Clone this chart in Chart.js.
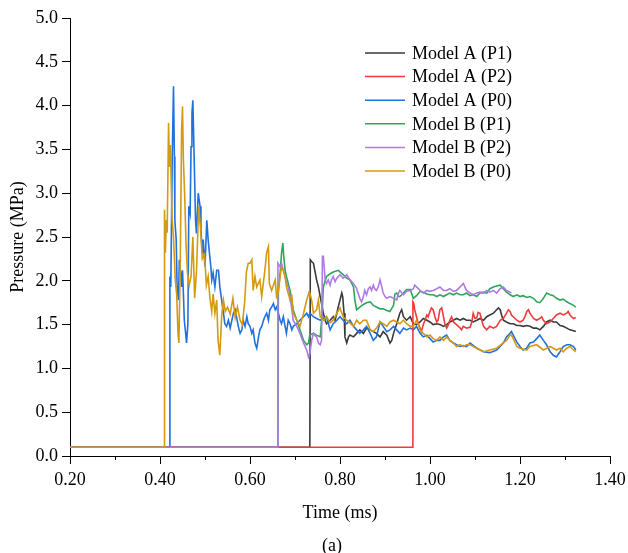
<!DOCTYPE html>
<html>
<head>
<meta charset="utf-8">
<title>Pressure</title>
<script src="https://cdn.jsdelivr.net/npm/chart.js@4/dist/chart.umd.min.js"></script>
<style>
    html, body { margin: 0; padding: 0; background: #fff; }
    #wrap { width: 628px; height: 553px; }
</style>
</head>
<body>
<div id="wrap"><canvas id="grafico"></canvas></div>
<script>
// [time (ms), pressure (MPa)]
const modelA_P1 = [[0.2,0.1],[0.733,0.1],[0.734,2.24],[0.737,2.22],[0.741,2.20],[0.744,2.12],[0.748,2.01],[0.752,1.93],[0.756,1.82],[0.759,1.74],[0.763,1.63],[0.767,1.55],[0.770,1.51],[0.778,1.55],[0.785,1.59],[0.789,1.55],[0.793,1.63],[0.796,1.70],[0.800,1.78],[0.804,1.86],[0.806,1.82],[0.809,1.63],[0.811,1.36],[0.815,1.29],[0.819,1.36],[0.822,1.38],[0.830,1.36],[0.837,1.40],[0.844,1.44],[0.852,1.40],[0.859,1.46],[0.867,1.44],[0.874,1.42],[0.881,1.40],[0.889,1.36],[0.896,1.42],[0.904,1.38],[0.911,1.29],[0.915,1.32],[0.919,1.40],[0.926,1.51],[0.933,1.63],[0.937,1.67],[0.941,1.59],[0.948,1.55],[0.956,1.59],[0.963,1.51],[0.970,1.50],[0.978,1.53],[0.985,1.57],[0.993,1.55],[1.000,1.53],[1.007,1.50],[1.015,1.51],[1.022,1.50],[1.030,1.48],[1.037,1.50],[1.044,1.53],[1.052,1.55],[1.059,1.57],[1.067,1.55],[1.074,1.57],[1.081,1.55],[1.089,1.55],[1.096,1.53],[1.104,1.55],[1.111,1.57],[1.119,1.55],[1.126,1.59],[1.133,1.61],[1.141,1.63],[1.148,1.67],[1.152,1.69],[1.156,1.67],[1.159,1.61],[1.163,1.55],[1.170,1.53],[1.178,1.51],[1.185,1.51],[1.193,1.49],[1.200,1.49],[1.207,1.48],[1.215,1.49],[1.222,1.48],[1.230,1.46],[1.237,1.46],[1.244,1.44],[1.252,1.48],[1.259,1.53],[1.267,1.55],[1.274,1.53],[1.281,1.53],[1.289,1.49],[1.296,1.48],[1.304,1.46],[1.311,1.44],[1.319,1.43],[1.324,1.42]];

const modelA_P2 = [[0.2,0.1],[0.961,0.1],[0.962,1.76],[0.964,1.74],[0.966,1.67],[0.970,1.59],[0.974,1.51],[0.978,1.46],[0.981,1.42],[0.985,1.50],[0.989,1.55],[0.993,1.61],[0.996,1.59],[1.000,1.65],[1.003,1.69],[1.007,1.67],[1.011,1.59],[1.015,1.53],[1.018,1.55],[1.022,1.67],[1.026,1.69],[1.030,1.59],[1.033,1.51],[1.037,1.46],[1.041,1.50],[1.044,1.55],[1.048,1.59],[1.052,1.53],[1.059,1.50],[1.067,1.46],[1.070,1.44],[1.074,1.48],[1.081,1.46],[1.089,1.47],[1.093,1.53],[1.096,1.63],[1.100,1.57],[1.104,1.58],[1.107,1.64],[1.111,1.63],[1.115,1.55],[1.119,1.48],[1.126,1.44],[1.133,1.48],[1.141,1.46],[1.148,1.48],[1.156,1.55],[1.163,1.57],[1.170,1.63],[1.174,1.67],[1.178,1.65],[1.181,1.61],[1.185,1.59],[1.193,1.55],[1.200,1.53],[1.207,1.55],[1.211,1.59],[1.215,1.65],[1.219,1.67],[1.222,1.63],[1.230,1.57],[1.237,1.55],[1.244,1.57],[1.248,1.59],[1.252,1.55],[1.259,1.51],[1.267,1.53],[1.274,1.57],[1.281,1.61],[1.289,1.63],[1.296,1.61],[1.304,1.63],[1.307,1.65],[1.311,1.61],[1.319,1.57],[1.324,1.58]];

const modelA_P0 = [[0.2,0.1],[0.421,0.1],[0.422,2.05],[0.424,1.93],[0.427,3.34],[0.430,4.22],[0.432,3.42],[0.433,2.69],[0.436,2.47],[0.438,1.93],[0.441,1.78],[0.443,2.24],[0.446,2.09],[0.448,1.93],[0.450,2.12],[0.452,1.86],[0.454,1.55],[0.457,1.40],[0.459,1.29],[0.462,1.51],[0.464,2.85],[0.467,2.77],[0.469,3.53],[0.471,3.91],[0.473,4.06],[0.475,3.61],[0.477,3.15],[0.479,2.69],[0.481,2.54],[0.485,3.00],[0.489,2.85],[0.491,2.58],[0.494,2.31],[0.496,2.47],[0.500,2.16],[0.504,2.69],[0.507,2.47],[0.510,2.31],[0.513,2.16],[0.515,2.01],[0.518,2.09],[0.522,1.93],[0.526,2.12],[0.530,2.12],[0.533,1.93],[0.537,1.78],[0.541,1.63],[0.544,1.51],[0.548,1.48],[0.552,1.55],[0.556,1.46],[0.563,1.63],[0.567,1.67],[0.570,1.59],[0.574,1.48],[0.578,1.40],[0.582,1.44],[0.585,1.55],[0.589,1.48],[0.593,1.59],[0.596,1.51],[0.600,1.48],[0.604,1.40],[0.607,1.44],[0.611,1.29],[0.615,1.23],[0.619,1.36],[0.622,1.44],[0.626,1.48],[0.630,1.55],[0.633,1.59],[0.637,1.63],[0.641,1.55],[0.644,1.67],[0.648,1.70],[0.652,1.74],[0.656,1.67],[0.659,1.70],[0.663,1.63],[0.667,1.55],[0.670,1.51],[0.674,1.59],[0.678,1.48],[0.681,1.40],[0.685,1.55],[0.689,1.51],[0.693,1.44],[0.696,1.48],[0.704,1.51],[0.711,1.55],[0.719,1.59],[0.726,1.63],[0.730,1.59],[0.733,1.63],[0.741,1.59],[0.748,1.57],[0.756,1.55],[0.763,1.57],[0.770,1.59],[0.778,1.44],[0.785,1.51],[0.793,1.55],[0.800,1.59],[0.807,1.55],[0.815,1.51],[0.822,1.55],[0.830,1.48],[0.837,1.44],[0.844,1.40],[0.852,1.44],[0.859,1.48],[0.867,1.40],[0.874,1.32],[0.881,1.36],[0.889,1.53],[0.896,1.48],[0.904,1.42],[0.911,1.44],[0.919,1.48],[0.926,1.44],[0.933,1.40],[0.941,1.46],[0.948,1.44],[0.956,1.46],[0.963,1.44],[0.970,1.48],[0.978,1.40],[0.985,1.36],[0.993,1.38],[1.000,1.34],[1.007,1.30],[1.015,1.32],[1.022,1.32],[1.030,1.36],[1.037,1.38],[1.044,1.32],[1.052,1.29],[1.059,1.27],[1.067,1.25],[1.074,1.26],[1.081,1.25],[1.089,1.29],[1.104,1.23],[1.119,1.19],[1.133,1.18],[1.148,1.21],[1.163,1.29],[1.170,1.36],[1.178,1.40],[1.181,1.42],[1.185,1.38],[1.193,1.30],[1.200,1.25],[1.207,1.21],[1.215,1.23],[1.222,1.29],[1.230,1.30],[1.237,1.34],[1.244,1.38],[1.252,1.32],[1.259,1.27],[1.267,1.19],[1.274,1.15],[1.281,1.13],[1.289,1.19],[1.296,1.25],[1.304,1.27],[1.311,1.27],[1.319,1.25],[1.324,1.21]];

const modelB_P1 = [[0.2,0.1],[0.662,0.1],[0.663,1.90],[0.667,2.09],[0.670,2.31],[0.673,2.43],[0.675,2.28],[0.678,2.12],[0.681,2.05],[0.685,1.97],[0.689,1.89],[0.693,1.78],[0.696,1.67],[0.704,1.55],[0.711,1.44],[0.719,1.32],[0.726,1.27],[0.730,1.29],[0.733,1.38],[0.741,1.40],[0.748,1.38],[0.756,1.36],[0.760,1.60],[0.763,1.93],[0.770,2.05],[0.778,2.08],[0.785,2.10],[0.796,2.12],[0.807,2.07],[0.815,2.03],[0.822,2.01],[0.830,1.93],[0.833,1.78],[0.837,1.67],[0.844,1.70],[0.852,1.73],[0.859,1.75],[0.867,1.76],[0.874,1.72],[0.881,1.70],[0.889,1.68],[0.896,1.68],[0.904,1.66],[0.911,1.65],[0.919,1.72],[0.922,1.85],[0.926,1.86],[0.930,1.82],[0.933,1.82],[0.941,1.86],[0.948,1.90],[0.956,1.90],[0.963,1.80],[0.970,1.83],[0.978,1.88],[0.985,1.87],[0.993,1.85],[1.000,1.84],[1.007,1.84],[1.015,1.82],[1.022,1.84],[1.030,1.82],[1.037,1.84],[1.044,1.86],[1.052,1.84],[1.059,1.86],[1.067,1.84],[1.074,1.84],[1.081,1.86],[1.089,1.83],[1.096,1.84],[1.104,1.82],[1.111,1.86],[1.119,1.87],[1.126,1.86],[1.133,1.91],[1.141,1.93],[1.148,1.94],[1.156,1.95],[1.163,1.91],[1.170,1.87],[1.178,1.84],[1.185,1.82],[1.193,1.84],[1.200,1.82],[1.207,1.83],[1.215,1.81],[1.222,1.82],[1.230,1.80],[1.237,1.76],[1.244,1.75],[1.252,1.80],[1.259,1.86],[1.267,1.84],[1.274,1.83],[1.281,1.80],[1.289,1.78],[1.296,1.79],[1.304,1.76],[1.311,1.74],[1.319,1.72],[1.324,1.70]];

const modelB_P2 = [[0.2,0.1],[0.661,0.1],[0.662,2.20],[0.667,2.16],[0.670,2.20],[0.674,2.12],[0.678,2.05],[0.681,1.97],[0.685,1.93],[0.689,1.82],[0.693,1.67],[0.696,1.55],[0.704,1.48],[0.711,1.40],[0.719,1.29],[0.726,1.21],[0.730,1.13],[0.733,1.17],[0.737,1.32],[0.741,1.40],[0.744,1.38],[0.748,1.36],[0.752,1.29],[0.756,1.27],[0.759,1.32],[0.761,2.28],[0.763,2.28],[0.767,2.01],[0.770,1.97],[0.774,2.01],[0.778,1.95],[0.781,2.01],[0.785,2.05],[0.789,1.99],[0.793,2.03],[0.800,2.07],[0.807,2.03],[0.815,2.07],[0.822,2.01],[0.830,1.97],[0.837,1.91],[0.844,1.80],[0.848,1.76],[0.852,1.82],[0.855,1.89],[0.859,1.84],[0.863,1.91],[0.867,1.93],[0.870,1.89],[0.874,1.95],[0.877,1.91],[0.881,1.89],[0.885,1.93],[0.889,2.01],[0.892,1.95],[0.896,1.86],[0.900,1.82],[0.904,1.80],[0.911,1.82],[0.919,1.80],[0.926,1.78],[0.930,1.86],[0.933,1.89],[0.941,1.84],[0.948,1.88],[0.956,1.89],[0.963,1.91],[0.966,1.95],[0.970,1.93],[0.978,1.89],[0.985,1.86],[0.993,1.89],[1.000,1.88],[1.007,1.89],[1.015,1.91],[1.022,1.93],[1.030,1.89],[1.037,1.89],[1.044,1.91],[1.052,1.88],[1.059,1.89],[1.067,1.93],[1.074,1.97],[1.081,1.89],[1.089,1.86],[1.096,1.84],[1.104,1.86],[1.111,1.87],[1.119,1.86],[1.126,1.89],[1.133,1.87],[1.141,1.89],[1.148,1.86],[1.156,1.91],[1.163,1.93],[1.170,1.89],[1.178,1.87],[1.181,1.86]];

const modelB_P0 = [[0.2,0.1],[0.409,0.1],[0.410,2.81],[0.412,2.32],[0.414,2.69],[0.416,2.55],[0.419,3.80],[0.421,3.30],[0.423,3.55],[0.425,3.10],[0.427,2.69],[0.430,2.50],[0.434,2.01],[0.437,1.85],[0.440,1.40],[0.442,1.29],[0.445,2.16],[0.448,3.72],[0.450,3.99],[0.452,3.38],[0.455,2.95],[0.458,2.40],[0.461,2.09],[0.465,1.95],[0.469,2.05],[0.473,2.50],[0.477,1.80],[0.481,2.10],[0.486,2.85],[0.490,2.60],[0.494,2.25],[0.499,2.30],[0.503,1.95],[0.507,2.05],[0.511,1.80],[0.515,1.65],[0.518,1.85],[0.522,1.63],[0.526,1.78],[0.529,1.32],[0.533,1.15],[0.537,1.60],[0.541,1.78],[0.545,1.65],[0.550,1.70],[0.556,1.62],[0.562,1.80],[0.567,1.58],[0.572,1.70],[0.578,1.55],[0.583,1.50],[0.588,1.75],[0.592,2.10],[0.596,2.20],[0.600,2.20],[0.604,2.24],[0.607,1.89],[0.611,2.05],[0.615,1.93],[0.622,2.01],[0.626,1.82],[0.633,2.12],[0.637,2.32],[0.641,2.39],[0.643,1.97],[0.648,1.89],[0.656,2.01],[0.659,1.82],[0.663,1.87],[0.667,2.05],[0.670,2.16],[0.674,2.12],[0.678,2.05],[0.681,1.93],[0.689,1.78],[0.693,1.82],[0.696,1.63],[0.704,1.55],[0.711,1.48],[0.719,1.63],[0.726,1.78],[0.732,1.88],[0.737,1.78],[0.741,1.63],[0.748,1.67],[0.752,1.78],[0.756,1.59],[0.763,1.55],[0.770,1.59],[0.778,1.52],[0.785,1.55],[0.793,1.63],[0.800,1.69],[0.807,1.59],[0.815,1.55],[0.822,1.52],[0.830,1.48],[0.837,1.55],[0.844,1.51],[0.852,1.55],[0.859,1.55],[0.867,1.44],[0.874,1.42],[0.881,1.46],[0.889,1.53],[0.896,1.51],[0.904,1.48],[0.911,1.53],[0.919,1.55],[0.926,1.53],[0.933,1.51],[0.941,1.55],[0.948,1.51],[0.956,1.48],[0.963,1.48],[0.970,1.55],[0.974,1.50],[0.978,1.44],[0.985,1.40],[0.993,1.36],[1.000,1.38],[1.007,1.34],[1.015,1.32],[1.022,1.36],[1.030,1.32],[1.037,1.36],[1.044,1.32],[1.052,1.29],[1.059,1.25],[1.067,1.27],[1.074,1.25],[1.081,1.27],[1.089,1.27],[1.104,1.23],[1.119,1.19],[1.133,1.21],[1.148,1.23],[1.163,1.29],[1.170,1.32],[1.178,1.38],[1.181,1.38],[1.185,1.34],[1.193,1.25],[1.200,1.23],[1.215,1.21],[1.222,1.25],[1.237,1.27],[1.252,1.21],[1.267,1.25],[1.274,1.23],[1.281,1.21],[1.289,1.23],[1.296,1.19],[1.304,1.23],[1.311,1.25],[1.319,1.21],[1.324,1.19]];

const seriesNames = ['Model A (P1)', 'Model A (P2)', 'Model A (P0)', 'Model B (P1)', 'Model B (P2)', 'Model B (P0)'];
const seriesData = [modelA_P1, modelA_P2, modelA_P0, modelB_P1, modelB_P2, modelB_P0];
const seriesColors = ['#3a3a3a', '#ef3b3b', '#2070de', '#2ea65a', '#b07ae6', '#d49a12'];
const drawOrder = [5, 2, 3, 4, 1, 0];   // lower = on top

const serif = 'Liberation Serif';
const black = '#000';

// minor ticks on the time axis, halfway between labels
const minorTicks = {
    id: 'minorTicks',
    afterDraw(chart) {
        const ctx = chart.ctx;
        const x = chart.scales.x;
        ctx.save();
        ctx.strokeStyle = black;
        ctx.lineWidth = 1;
        for (let v = 0.3; v < 1.4; v += 0.2) {
            const px = Math.round(x.getPixelForValue(v)) + 0.5;
            ctx.beginPath();
            ctx.moveTo(px, x.top);
            ctx.lineTo(px, x.top + 4);
            ctx.stroke();
        }
        ctx.restore();
    }
};

// legend inside the plot, one entry per row
const insideLegend = {
    id: 'insideLegend',
    afterDraw(chart) {
        const ctx = chart.ctx;
        ctx.save();
        ctx.font = '18px "' + serif + '"';
        ctx.textBaseline = 'middle';
        ctx.textAlign = 'left';
        chart.data.datasets.forEach((ds, i) => {
            const y = 53 + i * 23.6;
            ctx.strokeStyle = ds.borderColor;
            ctx.lineWidth = 1.5;
            ctx.beginPath();
            ctx.moveTo(365, y);
            ctx.lineTo(405, y);
            ctx.stroke();
            ctx.fillStyle = black;
            ctx.fillText(ds.label, 412, y + 1);
        });
        ctx.fillText('(a)', 322, 546);
        ctx.restore();
    }
};

function renderChart() {
    const datasets = seriesData.map((serie, i) => ({
        label: seriesNames[i],
        data: serie.map(p => ({ x: p[0], y: p[1] })),
        borderColor: seriesColors[i],
        backgroundColor: seriesColors[i],
        borderWidth: 1.6,
        pointRadius: 0,
        tension: 0,
        fill: false,
        order: drawOrder[i]
    }));

    const ctx = document.getElementById('grafico').getContext('2d');
    return new Chart(ctx, {
        type: 'line',
        data: { datasets: datasets },
        options: {
            responsive: true,
            maintainAspectRatio: false,
            animation: false,
            layout: { padding: { top: 18, right: 18, left: 0, bottom: 0 } },
            plugins: {
                legend: { display: false },
                tooltip: { enabled: false }
            },
            scales: {
                x: {
                    type: 'linear',
                    min: 0.2,
                    max: 1.4,
                    border: { display: true, color: black, width: 1 },
                    grid: { drawOnChartArea: false, drawTicks: true, tickLength: 8, tickColor: black },
                    ticks: {
                        stepSize: 0.2,
                        autoSkip: false,
                        maxRotation: 0,
                        padding: 1,
                        color: black,
                        // taller line box pushes the labels down without widening the right padding
                        font: { family: serif, size: 18, lineHeight: 1.65 },
                        callback: v => v.toFixed(2)
                    },
                    title: {
                        display: true,
                        text: 'Time (ms)',
                        color: black,
                        font: { family: serif, size: 18 },
                        padding: { top: 0, bottom: 29 }
                    },
                    afterFit: scale => { scale.height = 97; }
                },
                y: {
                    min: 0,
                    max: 5,
                    border: { display: true, color: black, width: 1 },
                    grid: { drawOnChartArea: false, drawTicks: true, tickLength: 8, tickColor: black },
                    ticks: {
                        stepSize: 0.5,
                        padding: 4,
                        color: black,
                        font: { family: serif, size: 18 },
                        callback: v => v.toFixed(1)
                    },
                    title: {
                        display: true,
                        text: 'Pressure (MPa)',
                        color: black,
                        font: { family: serif, size: 18 },
                        padding: { top: 7, bottom: 0 }
                    },
                    afterFit: scale => { scale.width = 70; }
                }
            }
        },
        plugins: [minorTicks, insideLegend]
    });
}

renderChart();
</script>
</body>
</html>
